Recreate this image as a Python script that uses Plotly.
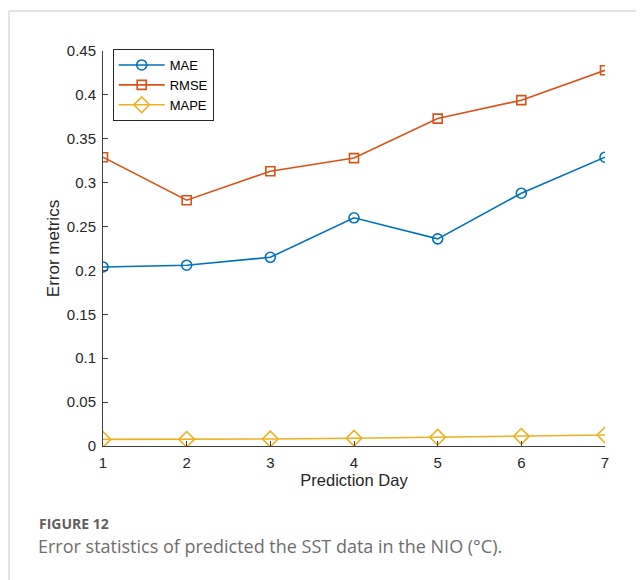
import plotly.graph_objects as go

days = [1, 2, 3, 4, 5, 6, 7]
mae = [0.204, 0.206, 0.215, 0.260, 0.236, 0.288, 0.329]
rmse = [0.329, 0.280, 0.313, 0.328, 0.373, 0.394, 0.428]
mape = [0.0075, 0.0076, 0.0080, 0.0088, 0.0100, 0.0110, 0.0125]
y_ticks = [0, 0.05, 0.1, 0.15, 0.2, 0.25, 0.3, 0.35, 0.4, 0.45]

OFF = 8  # page body margin
W, H = 644 - OFF, 580 - OFF
L, R, T, B = 103 - OFF, 605 - OFF, 51 - OFF, 446 - OFF
pw, ph = R - L, B - T

def px(x):
    return (x - OFF - L) / pw

def py(y):
    return 1 - (y - OFF - T) / ph

fig = go.Figure()
series = [
    ("MAE", mae, "#0072BD", "circle-open", 10),
    ("RMSE", rmse, "#D95319", "square-open", 9),
    ("MAPE", mape, "#EDB120", "diamond-open", 12),
]
for name, vals, col, sym, sz in series:
    fig.add_trace(go.Scatter(
        x=days, y=vals, name=name, mode="lines+markers",
        line=dict(color=col, width=1.6),
        marker=dict(symbol=sym, size=sz, color=col, line=dict(color=col, width=1.6)),
    ))

axis_col = "#404040"
fig.update_layout(
    width=W, height=H,
    margin=dict(l=L, r=W - R, t=T, b=H - B),
    paper_bgcolor="white", plot_bgcolor="white",
    font=dict(family="Liberation Sans, Arial, sans-serif", size=15, color="#262626"),
    xaxis=dict(
        range=[1, 7], tickvals=days, ticks="inside", ticklen=5, tickcolor=axis_col,
        showline=True, linecolor=axis_col, linewidth=1, showgrid=False, zeroline=False,
        title=dict(text="Prediction Day", font=dict(size=16.5), standoff=4),
        tickfont=dict(size=15), ticklabelstandoff=3,
    ),
    yaxis=dict(
        range=[0, 0.45], tickvals=y_ticks, ticks="inside", ticklen=5, tickcolor=axis_col,
        showline=True, linecolor=axis_col, linewidth=1, showgrid=False, zeroline=False,
        title=dict(text="Error metrics", font=dict(size=17), standoff=2),
        tickfont=dict(size=15), ticklabelstandoff=3,
    ),
    legend=dict(
        x=(112.7 - 103) / (605 - 103), y=1.005, xanchor="left", yanchor="top",
        bgcolor="white", bordercolor="#262626", borderwidth=1,
        font=dict(size=13, color="#000000"),
        itemwidth=46, tracegroupgap=0,
    ),
    showlegend=True,
)

# card frame lines (left and top)
fig.add_shape(type="line", xref="paper", yref="paper",
              x0=px(9), x1=px(9), y0=py(11), y1=py(600),
              line=dict(color="#e3e3e3", width=2))
fig.add_shape(type="line", xref="paper", yref="paper",
              x0=px(9), x1=px(660), y0=py(11), y1=py(11),
              line=dict(color="#e3e3e3", width=2))

fig.add_annotation(xref="paper", yref="paper", x=px(37), y=py(523),
                   xanchor="left", yanchor="middle", showarrow=False,
                   text="<b>FIGURE 12</b>",
                   font=dict(family="Open Sans, sans-serif", size=14, color="#5f5f5f"))
fig.add_annotation(xref="paper", yref="paper", x=px(36), y=py(546),
                   xanchor="left", yanchor="middle", showarrow=False,
                   text="Error statistics of predicted the SST data in the NIO (°C).",
                   font=dict(family="Open Sans, sans-serif", size=18, color="#6e6e6e"))

fig.write_html("out.html")
